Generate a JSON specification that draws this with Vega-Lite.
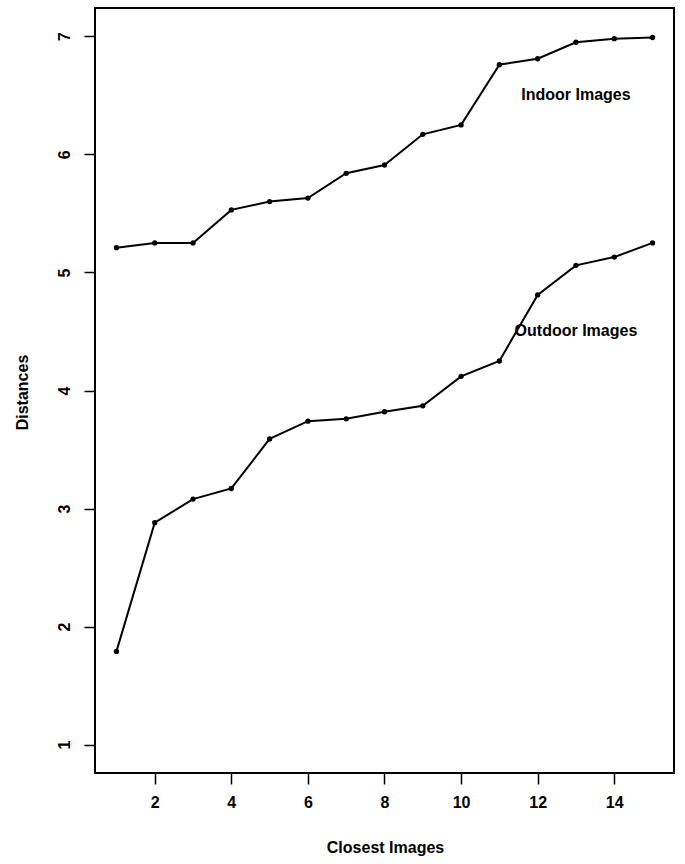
{
  "$schema": "https://vega.github.io/schema/vega-lite/v6.json",
  "width": 579,
  "height": 765,
  "autosize": {"type": "none"},
  "padding": {"left": 95, "top": 8, "right": 11, "bottom": 91},
  "background": "white",
  "config": {
    "view": {"stroke": "black", "strokeWidth": 2},
    "font": "Liberation Sans",
    "axis": {
      "domain": false,
      "grid": false,
      "ticks": true,
      "tickColor": "black",
      "tickWidth": 1.5,
      "tickSize": 11,
      "labelFont": "Liberation Sans",
      "labelFontSize": 16,
      "labelFontWeight": "bold",
      "labelColor": "black",
      "titleFont": "Liberation Sans",
      "titleFontSize": 16,
      "titleFontWeight": "bold",
      "titleColor": "black"
    }
  },
  "datasets": {
    "series": [
      {"img": 1, "dist": 5.21, "group": "Indoor"},
      {"img": 2, "dist": 5.25, "group": "Indoor"},
      {"img": 3, "dist": 5.25, "group": "Indoor"},
      {"img": 4, "dist": 5.53, "group": "Indoor"},
      {"img": 5, "dist": 5.60, "group": "Indoor"},
      {"img": 6, "dist": 5.63, "group": "Indoor"},
      {"img": 7, "dist": 5.84, "group": "Indoor"},
      {"img": 8, "dist": 5.91, "group": "Indoor"},
      {"img": 9, "dist": 6.17, "group": "Indoor"},
      {"img": 10, "dist": 6.25, "group": "Indoor"},
      {"img": 11, "dist": 6.76, "group": "Indoor"},
      {"img": 12, "dist": 6.81, "group": "Indoor"},
      {"img": 13, "dist": 6.95, "group": "Indoor"},
      {"img": 14, "dist": 6.98, "group": "Indoor"},
      {"img": 15, "dist": 6.99, "group": "Indoor"},
      {"img": 1, "dist": 1.79, "group": "Outdoor"},
      {"img": 2, "dist": 2.88, "group": "Outdoor"},
      {"img": 3, "dist": 3.08, "group": "Outdoor"},
      {"img": 4, "dist": 3.17, "group": "Outdoor"},
      {"img": 5, "dist": 3.59, "group": "Outdoor"},
      {"img": 6, "dist": 3.74, "group": "Outdoor"},
      {"img": 7, "dist": 3.76, "group": "Outdoor"},
      {"img": 8, "dist": 3.82, "group": "Outdoor"},
      {"img": 9, "dist": 3.87, "group": "Outdoor"},
      {"img": 10, "dist": 4.12, "group": "Outdoor"},
      {"img": 11, "dist": 4.25, "group": "Outdoor"},
      {"img": 12, "dist": 4.81, "group": "Outdoor"},
      {"img": 13, "dist": 5.06, "group": "Outdoor"},
      {"img": 14, "dist": 5.13, "group": "Outdoor"},
      {"img": 15, "dist": 5.25, "group": "Outdoor"}
    ],
    "labels": [
      {"img": 13, "dist": 6.5, "label": "Indoor Images"},
      {"img": 13, "dist": 4.5, "label": "Outdoor Images"}
    ]
  },
  "layer": [
    {
      "data": {"name": "series"},
      "mark": {"type": "line", "color": "black", "strokeWidth": 2, "point": {"filled": true, "color": "black", "size": 28}},
      "encoding": {
        "x": {
          "field": "img", "type": "quantitative",
          "scale": {"domain": [0.44, 15.56], "nice": false, "zero": false},
          "axis": {
            "values": [2, 4, 6, 8, 10, 12, 14],
            "format": "d",
            "title": "Closest Images",
            "labelPadding": 10,
            "titleX": 290,
            "titleY": 74,
            "titleBaseline": "middle",
            "titleAlign": "center"
          }
        },
        "y": {
          "field": "dist", "type": "quantitative",
          "scale": {"domain": [0.76, 7.24], "nice": false, "zero": false},
          "axis": {
            "values": [1, 2, 3, 4, 5, 6, 7],
            "format": "d",
            "title": "Distances",
            "labelAngle": -90,
            "labelAlign": "center",
            "labelBaseline": "bottom",
            "labelPadding": 12,
            "titleAngle": -90,
            "titleX": -73,
            "titleY": 384,
            "titleAlign": "center",
            "titleBaseline": "middle"
          }
        },
        "detail": {"field": "group"}
      }
    },
    {
      "data": {"name": "labels"},
      "mark": {"type": "text", "font": "Liberation Sans", "fontSize": 16, "fontWeight": "bold", "color": "black", "align": "center", "baseline": "middle"},
      "encoding": {
        "x": {"field": "img", "type": "quantitative"},
        "y": {"field": "dist", "type": "quantitative"},
        "text": {"field": "label"}
      }
    }
  ]
}
